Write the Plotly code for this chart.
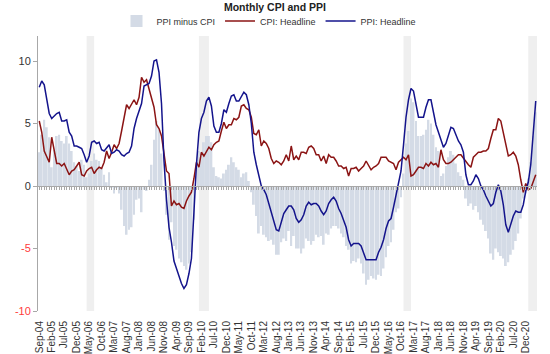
import pandas as pd
import plotly.graph_objects as go

# Monthly, Sep-2004 .. Apr-2021 (year-on-year %)
cpi = [
    5.2, 4.3, 2.8, 2.4,
    1.9, 3.9, 2.7, 1.8, 1.8, 1.6, 1.8, 1.3, 0.9, 1.2, 1.3, 1.6,
    1.9, 0.9, 0.8, 1.2, 1.4, 1.5, 1.0, 1.3, 1.5, 1.4, 1.9, 2.8,
    2.2, 2.7, 3.3, 3.0, 3.4, 4.4, 5.6, 6.5, 6.2, 6.5, 6.9, 6.5,
    7.1, 8.7, 8.3, 8.5, 7.7, 7.1, 6.3, 4.9, 4.6, 4.0, 2.4, 1.2,
    1.0, -1.6, -1.2, -1.5, -1.4, -1.7, -1.8, -1.2, -0.8, -0.5, 0.6, 1.9,
    1.5, 2.7, 2.4, 2.8, 3.1, 2.9, 3.3, 3.5, 3.6, 4.4, 5.1, 4.6,
    4.9, 4.9, 5.4, 5.3, 5.5, 6.4, 6.5, 6.2, 6.1, 5.5, 4.2, 4.1,
    4.5, 3.2, 3.6, 3.4, 3.0, 2.2, 1.8, 2.0, 1.9, 1.7, 2.0, 2.5,
    2.0, 3.2, 2.1, 2.4, 2.1, 2.7, 2.7, 2.6, 3.1, 3.2, 3.0, 2.5,
    2.5, 2.0, 2.4, 1.8, 2.5, 2.3, 2.3, 2.0, 1.6, 1.6, 1.4, 1.5,
    0.8, 1.4, 1.4, 1.5, 1.2, 1.4, 1.6, 2.0, 1.6, 1.3, 1.5, 1.6,
    1.8, 2.3, 2.3, 2.3, 2.0, 1.9, 1.8, 1.3, 1.9, 2.1, 2.3, 2.1,
    2.5, 0.8, 0.9, 1.2, 1.5, 1.5, 1.4, 1.8, 1.6, 1.9, 1.7, 1.8,
    1.5, 2.9, 2.1, 1.8, 1.8, 1.9, 2.1, 2.3, 2.5, 2.5, 2.2, 1.9,
    1.7, 1.5, 2.3, 2.5, 2.7, 2.7, 2.8, 2.8, 3.0, 3.8, 4.5, 4.5,
    5.4, 5.2, 4.3, 3.3, 2.4, 2.5, 2.7, 2.4, 1.7, 0.5, -0.5, 0.2,
    -0.3, -0.2, 0.4, 0.9,
]
ppi = [
    7.9, 8.4, 8.1, 7.1,
    5.8, 5.4, 5.6, 5.8, 5.9, 5.2, 5.2, 5.3, 4.3, 4.0, 3.2, 3.2,
    3.1, 3.0, 2.5, 1.9, 2.4, 3.5, 3.6, 3.4, 3.5, 2.9, 2.8, 3.1,
    3.3, 2.6, 2.7, 2.9, 2.8, 2.5, 2.4, 2.6, 2.7, 3.2, 4.6, 5.4,
    6.1, 6.6, 8.0, 8.1, 8.2, 8.8, 10.0, 10.1, 9.1, 6.6, 2.0, -1.1,
    -3.3, -4.5, -6.0, -6.6, -7.2, -7.8, -8.2, -7.9, -7.0, -5.8, -2.1, 1.7,
    4.3, 5.4, 5.9, 6.8, 7.1, 6.4, 4.8, 4.3, 4.3, 5.0, 6.1, 5.9,
    6.6, 7.2, 7.3, 6.8, 6.8, 7.1, 7.5, 7.3, 6.5, 5.0, 2.7, 1.7,
    0.7, 0.0, -0.3, -0.7, -1.4, -2.1, -2.9, -3.5, -3.6, -2.8, -2.2, -1.9,
    -1.6, -1.6, -1.9, -2.6, -2.9, -2.7, -2.3, -1.6, -1.3, -1.5, -1.4, -1.4,
    -1.6, -2.0, -2.3, -2.0, -1.4, -1.1, -0.9, -1.2, -1.8, -2.2, -2.7, -3.3,
    -4.3, -4.8, -4.6, -4.6, -4.6, -4.8, -5.4, -5.9, -5.9, -5.9, -5.9, -5.9,
    -5.3, -4.9, -4.3, -3.4, -2.8, -2.6, -1.7, -0.8, 0.1, 1.2, 3.3, 5.5,
    6.9, 7.8, 7.6, 6.4, 5.5, 5.5, 5.5, 6.3, 6.9, 6.9, 5.8, 4.9,
    4.3, 3.7, 3.1, 3.4, 4.1, 4.7, 4.6, 4.1, 3.6, 3.3, 2.7, 0.9,
    0.1, 0.1, 0.4, 0.9, 0.6, 0.0, -0.3, -0.8, -1.2, -1.6, -1.4, -0.5,
    0.1, -0.4, -1.5, -3.1, -3.7, -3.0, -2.4, -2.0, -2.1, -2.1, -1.5, -0.4,
    0.3, 1.7, 4.4, 6.8,
]
ppi_minus_cpi = [round(p - c, 1) for p, c in zip(ppi, cpi)]

months = list(pd.date_range("2004-09-01", periods=len(cpi), freq="MS").strftime("%b-%y"))

tick_labels = [
    "Sep-04", "Feb-05", "Jul-05", "Dec-05", "May-06", "Oct-06", "Mar-07", "Aug-07",
    "Jan-08", "Jun-08", "Nov-08", "Apr-09", "Sep-09", "Feb-10", "Jul-10", "Dec-10",
    "May-11", "Oct-11", "Mar-12", "Aug-12", "Jan-13", "Jun-13", "Nov-13", "Apr-14",
    "Sep-14", "Feb-15", "Jul-15", "Dec-15", "May-16", "Oct-16", "Mar-17", "Aug-17",
    "Jan-18", "Jun-18", "Nov-18", "Apr-19", "Sep-19", "Feb-20", "Jul-20", "Dec-20",
]
y_tick_vals = [-10, -5, 0, 5, 10]
y_tick_text = ['<span style="color:#ff3b3b">-10</span>', '<span style="color:#ff3b3b">-5</span>', "0", "5", "10"]

# shaded periods (start month, end month) as category indexes
bands = [(19, 22), (64, 68), (146, 149), (196, 199.5)]

Y_MIN, Y_MAX = -10, 12

fig = go.Figure()
fig.add_trace(go.Bar(x=months, y=ppi_minus_cpi, name="PPI minus CPI",
                     marker=dict(color="#d4dbe6", line=dict(width=0))))
fig.add_trace(go.Scatter(x=months, y=cpi, name="CPI: Headline", mode="lines",
                         line=dict(color="#8b1414", width=1.5)))
fig.add_trace(go.Scatter(x=months, y=ppi, name="PPI: Headline", mode="lines",
                         line=dict(color="#14148c", width=1.5)))
# helper trace for the zero-line axis with monthly ticks
fig.add_trace(go.Scatter(x=months, y=[None] * len(months), xaxis="x2", showlegend=False,
                         hoverinfo="skip", mode="lines"))

for x0, x1 in bands:
    fig.add_shape(type="rect", xref="x", yref="paper", x0=x0, x1=x1, y0=0, y1=1,
                  fillcolor="#efefef", line=dict(width=0), layer="below")

fig.update_layout(
    width=550, height=354,
    margin=dict(l=38, r=13, t=36, b=43, autoexpand=False),
    paper_bgcolor="white", plot_bgcolor="white",
    font=dict(family="Arial, Liberation Sans, sans-serif", size=11, color="#333333"),
    title=dict(text="<b>Monthly CPI and PPI</b>", x=0.5, xanchor="center",
               y=1 - 7 / 354, yanchor="middle", font=dict(size=10.5, color="#222222")),
    legend=dict(orientation="h", x=(269 - 38) / 499, xanchor="center",
                yref="container", y=1 - 21 / 354, yanchor="middle",
                font=dict(size=9, color="#333333"),
                bgcolor="rgba(0,0,0,0)", itemwidth=30, tracegroupgap=0),
    bargap=0.25,
    showlegend=True,
    xaxis=dict(type="category", range=[-0.5, len(months) - 0.5], tickmode="array",
               tickvals=tick_labels, ticktext=tick_labels, tickangle=-90,
               tickfont=dict(size=10, color="#333333"), showline=False, ticks="outside",
               ticklen=5, tickcolor="rgba(0,0,0,0)", showgrid=False, zeroline=False,
               automargin=False),
    xaxis2=dict(type="category", overlaying="x", anchor="free",
                position=(0 - Y_MIN) / (Y_MAX - Y_MIN), range=[-0.5, len(months) - 0.5],
                tickmode="linear", tick0=0, dtick=1, ticks="outside", ticklen=3,
                tickcolor="#a8a8a8", tickwidth=1, showticklabels=False,
                showline=True, linecolor="#a8a8a8", linewidth=1, showgrid=False,
                zeroline=False, automargin=False),
    yaxis=dict(range=[Y_MIN, Y_MAX], tickmode="array", tickvals=y_tick_vals,
               ticktext=y_tick_text, showgrid=False, zeroline=False,
               showline=True, linecolor="#a8a8a8", ticks="outside", ticklen=4,
               tickcolor="#a8a8a8", tickfont=dict(size=11, color="#333333"),
               automargin=False),
)

fig.write_html("out.html")
